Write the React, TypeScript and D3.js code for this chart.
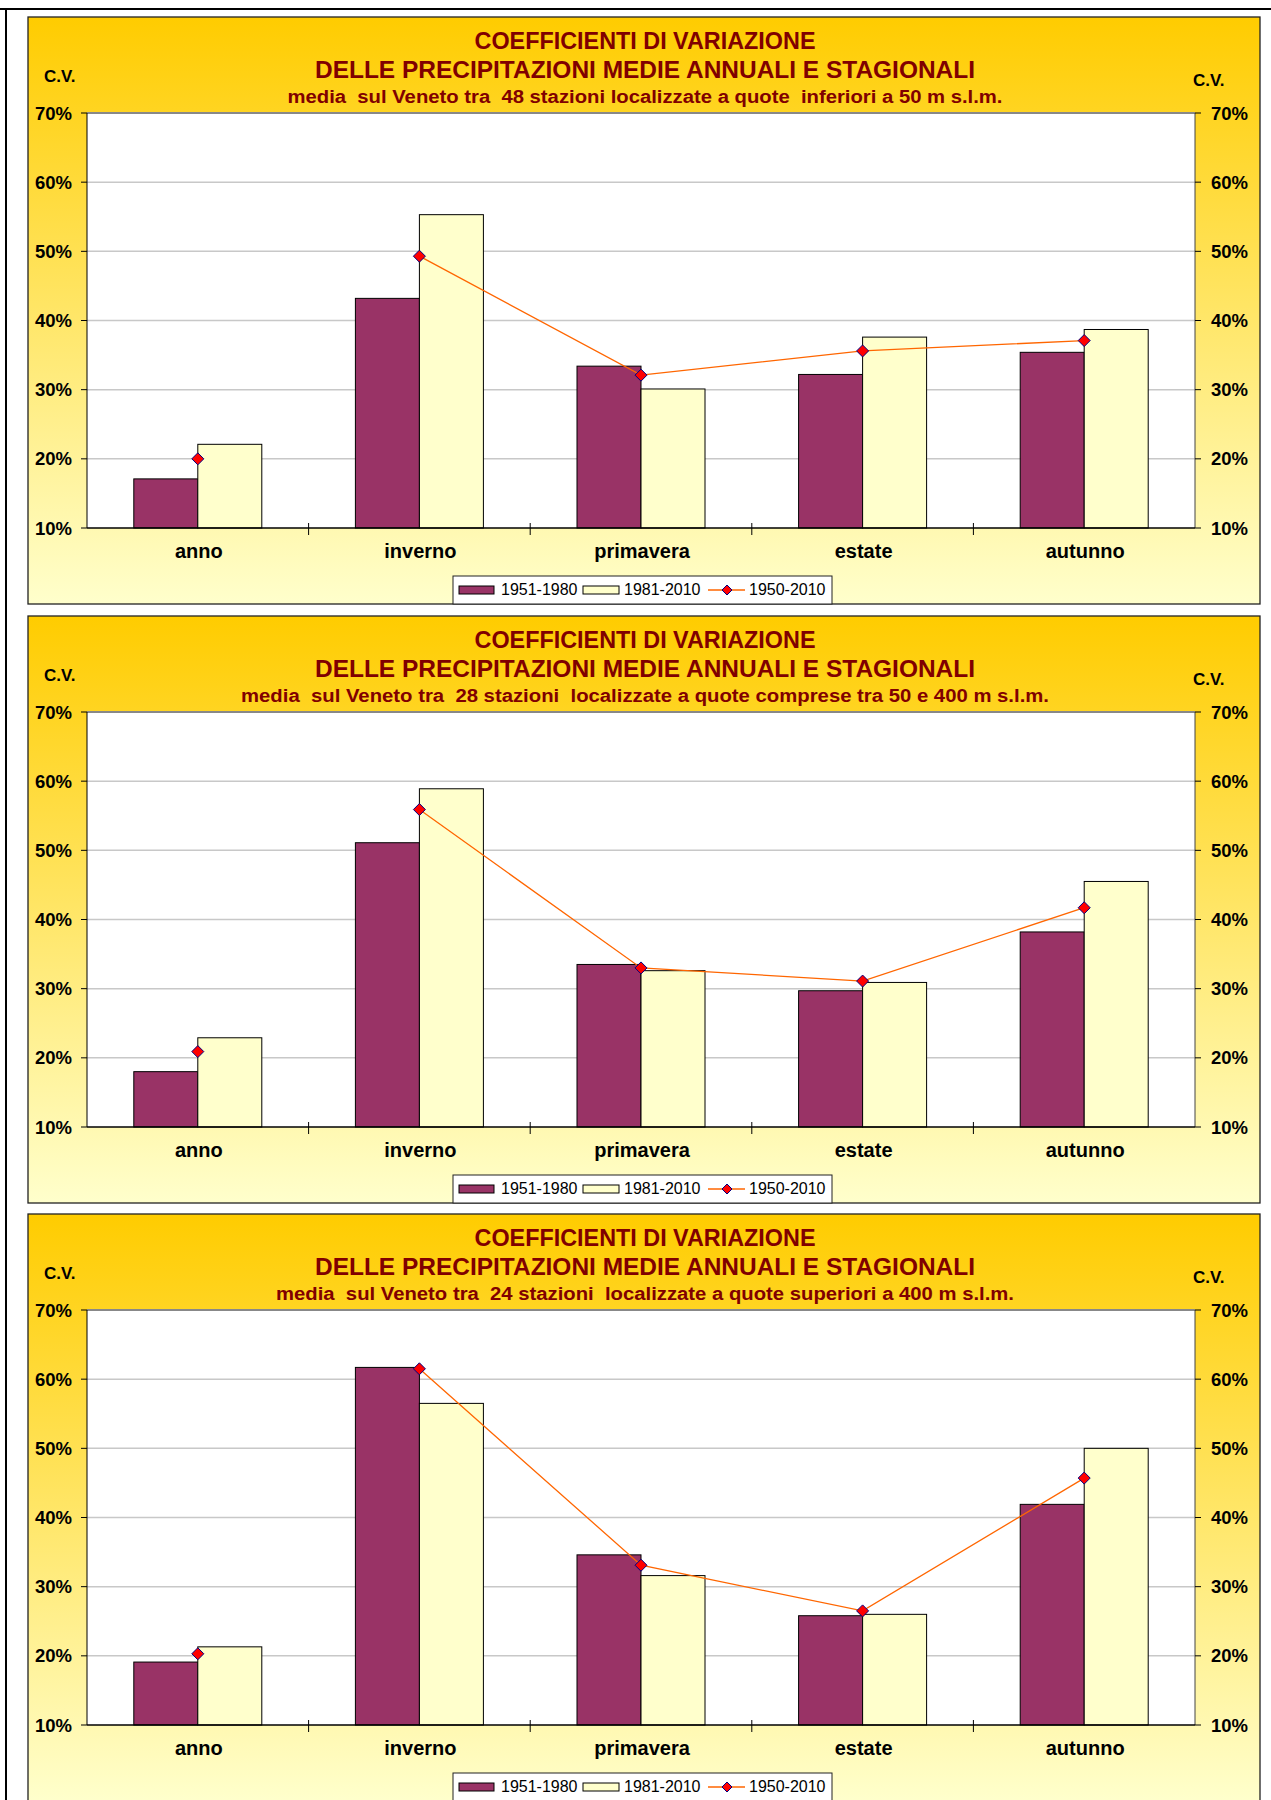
import * as d3 from 'd3';

const categories = ['anno', 'inverno', 'primavera', 'estate', 'autunno'];
const seriesNames = ['1951-1980', '1981-2010', '1950-2010'];
const yTicks = [10, 20, 30, 40, 50, 60, 70];

const titleLine1 = 'COEFFICIENTI DI VARIAZIONE';
const titleLine2 = 'DELLE PRECIPITAZIONI MEDIE ANNUALI E STAGIONALI';
const subtitles = [
  'media  sul Veneto tra  48 stazioni localizzate a quote  inferiori a 50 m s.l.m.',
  'media  sul Veneto tra  28 stazioni  localizzate a quote comprese tra 50 e 400 m s.l.m.',
  'media  sul Veneto tra  24 stazioni  localizzate a quote superiori a 400 m s.l.m.',
];
const subtitleWidths = [715, 808, 738];

// panel 1: < 50 m
const low5180 = [17.1, 43.2, 33.4, 32.2, 35.4];
const low8110 = [22.1, 55.3, 30.1, 37.6, 38.7];
const low5010 = [20.0, 49.3, 32.1, 35.6, 37.1];
// panel 2: 50-400 m
const mid5180 = [18.0, 51.1, 33.5, 29.7, 38.2];
const mid8110 = [22.9, 58.9, 32.6, 30.9, 45.5];
const mid5010 = [20.9, 55.9, 33.0, 31.1, 41.7];
// panel 3: > 400 m
const high5180 = [19.1, 61.7, 34.6, 25.8, 41.9];
const high8110 = [21.3, 56.5, 31.6, 26.0, 50.0];
const high5010 = [20.3, 61.5, 33.1, 26.5, 45.7];

const panels = [
  { sub: subtitles[0], subW: subtitleWidths[0], a: low5180, b: low8110, c: low5010 },
  { sub: subtitles[1], subW: subtitleWidths[1], a: mid5180, b: mid8110, c: mid5010 },
  { sub: subtitles[2], subW: subtitleWidths[2], a: high5180, b: high8110, c: high5010 },
];

const MAROON = '#993366';
const PALE = '#FFFFCC';
const ORANGE = '#FF6600';
const TITLE = '#800000';
const FONT = '"Liberation Sans", Arial, Helvetica, sans-serif';

const W = 1271, H = 1800;
const PX = 28, PW = 1232, PH = 587;
const PANEL_TOPS = [17, 616, 1214];
const PL = 87, PR = 1195, PT = 96, PLOT_H = 415;
const BAR_W = 64;

function Diamond({ x, y, r = 6 }: { x: number; y: number; r?: number }) {
  return (
    <path d={`M${x},${y - r}L${x + r},${y}L${x},${y + r}L${x - r},${y}Z`}
      fill="#FF0000" stroke="#000080" strokeWidth={1} />
  );
}

function Panel({ top, p }: { top: number; p: typeof panels[0] }) {
  const x0 = d3.scaleBand<string>().domain(categories).range([PL, PR]).padding(0);
  const bw = x0.bandwidth();
  const x1 = d3.scaleBand<string>().domain(seriesNames.slice(0, 2))
    .range([bw / 2 - BAR_W, bw / 2 + BAR_W]).padding(0);
  const y = d3.scaleLinear().domain([10, 70]).range([top + PT + PLOT_H, top + PT]);
  // in the original the annual point stands alone, the line joins only the seasons
  const line = d3.line<number>()
    .defined((_, i) => i > 0)
    .x((_, i) => (x0(categories[i]) ?? 0) + bw / 2)
    .y(d => y(d));
  const base = y(10);
  const cx = 645;

  return (
    <g>
      <rect x={PX} y={top} width={PW} height={PH} fill="url(#panelGrad)" stroke="#222" strokeWidth={1.3} />
      <text x={cx} y={top + 32} textAnchor="middle" fontFamily={FONT} fontWeight="bold" fontSize={23} fill={TITLE}
        textLength={341} lengthAdjust="spacingAndGlyphs">{titleLine1}</text>
      <text x={cx} y={top + 61} textAnchor="middle" fontFamily={FONT} fontWeight="bold" fontSize={23} fill={TITLE}
        textLength={660} lengthAdjust="spacingAndGlyphs">{titleLine2}</text>
      <text x={cx} y={top + 86} textAnchor="middle" fontFamily={FONT} fontWeight="bold" fontSize={18} fill={TITLE}
        textLength={p.subW} lengthAdjust="spacingAndGlyphs" style={{ whiteSpace: 'pre' }}>{p.sub}</text>
      <text x={44} y={top + 65} fontFamily={FONT} fontWeight="bold" fontSize={17} fill="#000">C.V.</text>
      <text x={1193} y={top + 69} fontFamily={FONT} fontWeight="bold" fontSize={17} fill="#000">C.V.</text>

      {/* plot area */}
      <rect x={PL} y={top + PT} width={PR - PL} height={PLOT_H} fill="#fff" />
      {yTicks.slice(1, -1).map(t => (
        <line key={t} x1={PL} x2={PR} y1={y(t)} y2={y(t)} stroke="#C8C8C8" strokeWidth={1.5} />
      ))}
      <line x1={PL} x2={PR} y1={top + PT} y2={top + PT} stroke="#888" strokeWidth={2} />

      {/* bars */}
      {categories.map((c, i) => (
        <g key={c}>
          <rect x={(x0(c) ?? 0) + (x1(seriesNames[0]) ?? 0)} y={y(p.a[i])} width={x1.bandwidth()} height={base - y(p.a[i])}
            fill={MAROON} stroke="#000" strokeWidth={1} />
          <rect x={(x0(c) ?? 0) + (x1(seriesNames[1]) ?? 0)} y={y(p.b[i])} width={x1.bandwidth()} height={base - y(p.b[i])}
            fill={PALE} stroke="#000" strokeWidth={1} />
        </g>
      ))}

      {/* axes */}
      <line x1={PL} x2={PL} y1={top + PT} y2={base} stroke="#000" strokeWidth={1} />
      <line x1={PR} x2={PR} y1={top + PT} y2={base} stroke="#444" strokeWidth={1} />
      <line x1={PL} x2={PR} y1={base} y2={base} stroke="#000" strokeWidth={1.3} />
      {yTicks.map(t => (
        <g key={t}>
          <line x1={PL - 6} x2={PL} y1={y(t)} y2={y(t)} stroke="#000" />
          <line x1={PR} x2={PR + 6} y1={y(t)} y2={y(t)} stroke="#000" />
          <text x={72} y={y(t) + 6.5} textAnchor="end" fontFamily={FONT} fontWeight="bold" fontSize={18.5} fill="#000">{t}%</text>
          <text x={1211} y={y(t) + 6.5} fontFamily={FONT} fontWeight="bold" fontSize={18.5} fill="#000">{t}%</text>
        </g>
      ))}
      {categories.slice(1).map(c => (
        <line key={c} x1={x0(c)} x2={x0(c)} y1={base - 5} y2={base + 7} stroke="#000" />
      ))}
      {categories.map(c => (
        <text key={c} x={(x0(c) ?? 0) + bw / 2 + 1} y={base + 30} textAnchor="middle" fontFamily={FONT} fontWeight="bold" fontSize={20} fill="#000">{c}</text>
      ))}

      {/* 1950-2010 line */}
      <path d={line(p.c) ?? ''} fill="none" stroke={ORANGE} strokeWidth={1.3} />
      {p.c.map((v, i) => (
        <Diamond key={i} x={(x0(categories[i]) ?? 0) + bw / 2} y={y(v)} />
      ))}

      {/* legend */}
      <g transform={`translate(453,${top + 559})`}>
        <rect x={0} y={0} width={379} height={28} fill="#fff" stroke="#222" strokeWidth={1} />
        <rect x={6} y={10} width={35} height={8} fill={MAROON} stroke="#000" />
        <text x={48} y={19} fontFamily={FONT} fontSize={16} fill="#000">{seriesNames[0]}</text>
        <rect x={130} y={10} width={36} height={8} fill={PALE} stroke="#000" />
        <text x={171} y={19} fontFamily={FONT} fontSize={16} fill="#000">{seriesNames[1]}</text>
        <line x1={255} x2={292} y1={14} y2={14} stroke={ORANGE} strokeWidth={1.3} />
        <Diamond x={274} y={14} r={5} />
        <text x={296} y={19} fontFamily={FONT} fontSize={16} fill="#000">{seriesNames[2]}</text>
      </g>
    </g>
  );
}

export default function App() {
  return (
    <svg width={W} height={H} style={{ position: 'absolute', left: 0, top: 0, background: '#fff' }}>
      <defs>
        <linearGradient id="panelGrad" x1="0" y1="0" x2="0" y2="1">
          <stop offset="0" stopColor="#FFCC00" />
          <stop offset="1" stopColor="#FFFFCC" />
        </linearGradient>
      </defs>
      <line x1={0} x2={W} y1={9} y2={9} stroke="#000" strokeWidth={2} />
      <line x1={6} x2={6} y1={8} y2={H} stroke="#000" strokeWidth={2} />
      {panels.map((p, i) => (
        <Panel key={i} top={PANEL_TOPS[i]} p={p} />
      ))}
    </svg>
  );
}
